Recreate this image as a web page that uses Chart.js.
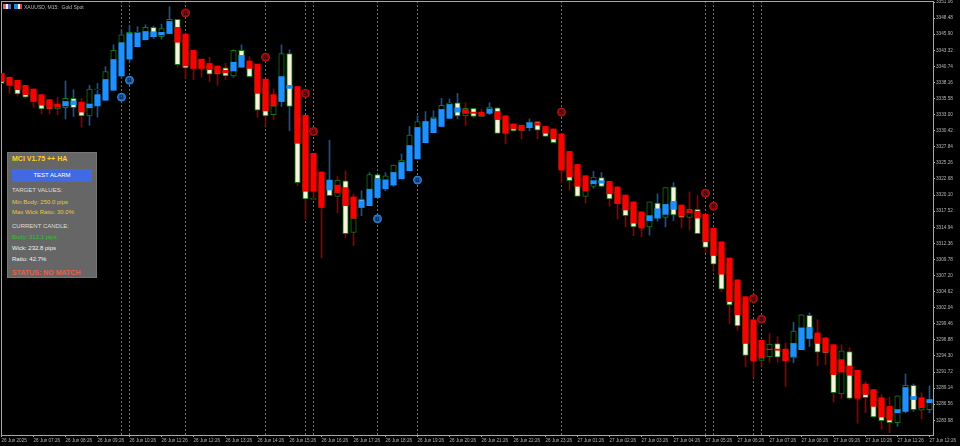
<!DOCTYPE html>
<html>
<head>
    <meta charset="UTF-8">
    <title>XAUUSD M15</title>
    <script src="https://cdn.jsdelivr.net/npm/chart.js"></script>
    <style>
        html, body { margin: 0; padding: 0; background: #000; overflow: hidden; }
        #wrap { position: relative; width: 960px; height: 446px; font-family: "Liberation Sans", Arial, sans-serif; }
        #header { position: absolute; left: 24px; top: 3.5px; font-size: 5px; line-height: 6px; color: #b8b8b8; white-space: pre; }
        .flag { position: absolute; top: 4px; width: 8px; height: 5px; }
        #panel { position: absolute; left: 7px; top: 152px; width: 88px; height: 124px; background: #666; border: 1px solid #777; color: #ddd; }
        #panel div { position: absolute; left: 4px; white-space: nowrap; font-size: 6px; line-height: 8px; }
        #panel #alarm { left: 4px; top: 16px; width: 80px; height: 13px; line-height: 13px; background: #4169e1; color: #fff; text-align: center; }
    </style>
</head>

<body>
    <div id="wrap">
        <canvas id="priceChart" width="960" height="446"></canvas>
        <div class="flag" style="left:3px;background:linear-gradient(90deg,#d66 0 40%,#eee 40% 60%,#56a 60%)"></div>
        <div class="flag" style="left:14px;background:linear-gradient(90deg,#28c 0 50%,#eee 50% 70%,#c44 70%)"></div>
        <div id="header">XAUUSD, M15:  Gold Spot</div>
        <div id="panel">
            <div style="top:2px;color:#ffd21e;font-size:7px;font-weight:bold">MCI V1.75 ++ HA</div>
            <div id="alarm">TEST ALARM</div>
            <div style="top:33px">TARGET VALUES:</div>
            <div style="top:44.5px;color:#e8c83c">Min Body: 250.0 pips</div>
            <div style="top:55px;color:#e8c83c">Max Wick Ratio: 30.0%</div>
            <div style="top:69px">CURRENT CANDLE:</div>
            <div style="top:80px;color:#2fc12f">Body: 312.1 pips</div>
            <div style="top:91px;color:#f2f2f2">Wick: 232.8 pips</div>
            <div style="top:102px;color:#f2f2f2">Ratio: 42.7%</div>
            <div style="top:115.5px;color:#e8604c;font-size:7px;font-weight:bold">STATUS: NO MATCH</div>
        </div>
    </div>

    <script>
        // regular candles
        const high = [
            3339.6,3339.0,3338.5,3337.7,3337.1,3336.2,3335.4,3335.8,3338.4,3337.0,
            3335.6,3337.7,3338.0,3340.7,3344.2,3346.6,3347.2,3347.1,3347.4,3347.2,
            3347.5,3350.3,3348.3,3345.9,3343.3,3341.9,3342.2,3340.8,3341.2,3343.4,
            3344.2,3342.3,3341.1,3338.7,3337.1,3344.2,3343.4,3337.5,3332.9,3326.8,
            3323.8,3328.9,3323.1,3324.0,3320.3,3320.8,3323.7,3323.4,3323.7,3324.9,
            3326.7,3331.1,3332.8,3333.5,3333.6,3335.6,3335.5,3336.4,3334.9,3334.0,
            3333.9,3334.9,3334.1,3332.8,3331.5,3331.3,3332.3,3331.9,3331.1,3330.7,
            3329.9,3327.1,3325.0,3323.2,3323.9,3323.7,3322.3,3321.4,3320.1,3319.0,
            3317.4,3319.0,3320.3,3321.3,3322.1,3318.5,3320.6,3320.0,3317.0,3314.8,
            3312.6,3310.0,3306.5,3303.8,3300.1,3296.8,3297.9,3297.4,3296.4,3299.7,
            3300.9,3301.2,3300.1,3297.2,3296.1,3296.1,3295.6,3292.0,3290.2,3288.9,
            3288.1,3287.7,3287.9,3291.4,3289.8,3288.4,3289.5
        ];
        const low = [
            3338.0,3336.4,3336.0,3335.6,3334.2,3333.1,3333.1,3333.0,3332.3,3332.7,
            3331.0,3331.3,3332.6,3335.3,3336.9,3338.8,3341.5,3343.9,3345.0,3345.2,
            3345.1,3346.0,3340.6,3338.8,3338.6,3339.0,3338.3,3337.7,3338.6,3339.0,
            3340.6,3339.1,3332.6,3331.2,3332.2,3334.3,3330.4,3321.6,3316.2,3319.4,
            3310.0,3320.0,3317.2,3313.3,3312.0,3316.8,3318.4,3319.7,3320.8,3321.5,
            3322.7,3324.0,3325.9,3328.5,3330.1,3331.1,3332.4,3332.3,3331.2,3332.5,
            3332.7,3333.0,3330.0,3328.3,3330.4,3329.1,3330.4,3329.1,3329.5,3328.5,
            3322.1,3320.9,3319.9,3318.8,3321.2,3321.4,3318.3,3316.3,3315.0,3313.6,
            3313.4,3313.7,3315.9,3315.0,3316.0,3314.8,3314.5,3313.9,3310.9,3308.1,
            3304.6,3299.5,3298.4,3292.6,3290.8,3292.7,3293.3,3293.3,3289.4,3293.2,
            3295.3,3295.8,3292.7,3292.9,3286.9,3287.5,3287.3,3283.5,3285.2,3284.5,
            3282.5,3282.0,3283.0,3285.2,3285.4,3284.2,3285.2
        ];
        const open = [
            3338.9,3338.9,3337.7,3337.0,3336.6,3335.4,3335.0,3333.9,3334.1,3335.6,
            3334.6,3332.8,3337.0,3338.6,3341.8,3344.5,3345.9,3346.1,3346.3,3347.0,
            3345.5,3347.9,3348.3,3345.0,3342.6,3341.8,3341.0,3340.5,3340.5,3339.2,
            3343.3,3341.0,3340.2,3337.7,3333.0,3335.1,3342.8,3335.4,3330.5,3319.4,
            3322.5,3322.4,3319.9,3322.4,3314.1,3319.4,3321.0,3323.4,3322.5,3323.7,
            3325.3,3328.0,3330.9,3330.9,3332.3,3333.8,3334.6,3334.9,3332.8,3334.0,
            3332.7,3333.8,3334.1,3332.2,3331.4,3330.4,3331.0,3331.9,3330.9,3330.4,
            3329.3,3326.5,3324.1,3319.9,3321.5,3322.9,3321.9,3320.9,3319.8,3318.5,
            3317.1,3315.0,3318.8,3316.5,3321.4,3318.2,3316.5,3317.8,3316.1,3314.2,
            3311.3,3308.9,3305.7,3302.5,3299.3,3293.6,3294.2,3296.3,3295.1,3294.0,
            3295.3,3300.8,3297.5,3296.9,3295.3,3288.2,3295.0,3291.3,3289.5,3288.6,
            3287.3,3285.7,3283.6,3289.2,3289.6,3285.6,3285.7
        ];
        const close = [
            3338.0,3337.9,3336.3,3335.8,3335.2,3333.9,3333.9,3334.6,3335.6,3334.1,
            3332.8,3337.1,3337.1,3339.9,3343.3,3345.8,3346.2,3346.2,3347.0,3345.5,
            3346.8,3348.3,3341.0,3340.5,3340.5,3340.5,3339.5,3339.5,3339.2,3343.3,
            3341.8,3339.1,3333.7,3332.8,3334.4,3342.8,3334.3,3322.1,3319.5,3319.6,
            3318.5,3320.0,3322.5,3313.9,3316.4,3318.7,3323.4,3322.7,3323.2,3324.9,
            3325.7,3329.7,3331.9,3331.8,3332.6,3334.5,3334.9,3332.8,3334.0,3332.7,
            3333.3,3334.2,3330.0,3330.1,3330.4,3331.0,3331.8,3330.5,3329.5,3328.5,
            3324.5,3322.4,3319.9,3320.8,3323.0,3321.5,3319.5,3318.7,3316.8,3315.0,
            3315.0,3319.0,3316.4,3321.3,3316.9,3316.5,3317.8,3313.9,3311.7,3309.0,
            3305.0,3302.5,3299.1,3294.4,3293.7,3294.0,3296.2,3294.1,3293.7,3298.3,
            3300.9,3297.1,3294.9,3294.8,3288.4,3295.1,3287.5,3287.9,3287.6,3284.5,
            3283.9,3283.6,3287.9,3289.6,3285.7,3286.0,3287.3
        ];

        // Heiken Ashi bodies drawn over the candles
        const haOpen = [
            3339.6,3339.0,3338.5,3337.7,3337.1,3336.2,3335.4,3334.7,3334.4,3334.6,
            3335.0,3334.1,3334.4,3335.3,3336.9,3339.2,3341.9,3343.9,3345.0,3345.5,
            3345.8,3346.0,3347.0,3345.9,3343.3,3341.9,3341.2,3340.8,3340.1,3340.0,
            3340.6,3341.6,3341.1,3338.7,3336.2,3335.1,3337.2,3337.5,3332.9,3326.8,
            3323.8,3320.9,3321.7,3321.3,3319.8,3318.1,3318.4,3319.7,3321.1,3321.7,
            3322.7,3324.0,3325.9,3328.5,3330.1,3331.1,3332.4,3333.4,3333.8,3333.4,
            3333.4,3333.2,3333.5,3332.8,3331.5,3331.3,3330.9,3331.7,3331.1,3330.7,
            3329.9,3327.1,3325.0,3323.2,3321.9,3322.0,3322.3,3321.4,3320.1,3319.0,
            3317.4,3316.0,3316.4,3317.0,3317.8,3318.5,3317.6,3317.5,3317.0,3314.8,
            3312.6,3310.0,3306.5,3303.8,3300.1,3296.8,3295.4,3295.4,3295.4,3294.2,
            3295.3,3297.1,3298.0,3297.2,3296.1,3293.7,3292.7,3292.0,3289.8,3288.9,
            3287.6,3286.2,3285.2,3285.4,3287.3,3287.6,3286.8
        ];
        const haClose = [
            3338.3,3337.7,3337.0,3336.2,3335.1,3334.5,3334.0,3334.2,3335.1,3335.2,
            3333.4,3334.7,3336.2,3338.6,3341.8,3344.5,3346.0,3346.1,3346.3,3346.3,
            3346.2,3347.9,3344.6,3340.8,3340.4,3340.4,3340.2,3339.6,3339.7,3341.4,
            3342.5,3340.4,3336.4,3333.6,3334.4,3339.1,3337.7,3328.4,3320.7,3320.7,
            3318.1,3322.5,3320.5,3318.4,3316.4,3319.2,3321.0,3322.7,3322.5,3323.7,
            3325.3,3328.0,3330.9,3331.9,3332.3,3333.8,3334.6,3334.1,3333.2,3333.2,
            3332.8,3333.9,3332.2,3330.0,3330.7,3330.5,3331.7,3331.3,3330.0,3329.1,
            3324.1,3323.0,3321.5,3320.8,3322.4,3322.4,3320.3,3318.8,3317.7,3315.6,
            3314.8,3316.8,3317.9,3318.6,3319.1,3316.7,3317.3,3316.4,3312.6,3310.4,
            3307.4,3303.0,3300.9,3296.3,3293.5,3294.0,3295.3,3295.2,3293.5,3296.3,
            3298.8,3298.9,3296.3,3294.9,3291.3,3291.7,3291.2,3287.5,3288.1,3286.2,
            3284.5,3284.0,3285.7,3289.2,3287.8,3286.0,3287.3
        ];

        // sell / buy arrows: candle index and price
        const sellBars = [23, 33, 38, 39, 70, 88, 89, 94, 95];
        const sellPrices = [3349.3, 3342.2, 3336.4, 3330.3, 3333.4, 3320.4, 3318.3, 3303.5, 3300.2];
        const buyBars = [15, 16, 47, 52];
        const buyPrices = [3335.8, 3338.5, 3316.3, 3322.5];

        const priceTicks = [
            3351.06,3348.48,3345.90,3343.32,3340.74,3338.16,3335.58,3333.00,3330.42,
            3327.84,3325.26,3322.68,3320.10,3317.52,3314.94,3312.36,3309.78,3307.20,
            3304.62,3302.04,3299.46,3296.88,3294.30,3291.72,3289.14,3286.56,3283.98
        ];
        const timeLabels = [
            '26 Jun 2025','26 Jun 07:26','26 Jun 08:26','26 Jun 09:26','26 Jun 10:26','26 Jun 11:26',
            '26 Jun 12:26','26 Jun 13:26','26 Jun 14:26','26 Jun 15:26','26 Jun 16:26','26 Jun 17:26',
            '26 Jun 18:26','26 Jun 19:26','26 Jun 20:26','26 Jun 21:26','26 Jun 22:26','26 Jun 23:26',
            '27 Jun 01:26','27 Jun 02:26','27 Jun 03:26','27 Jun 04:26','27 Jun 05:26','27 Jun 06:26',
            '27 Jun 07:26','27 Jun 08:26','27 Jun 09:26','27 Jun 10:26','27 Jun 11:26','27 Jun 12:26'
        ];

        const yMax = 3351.06;
        const yMin = 3281.62;
        const isUp = i => haClose[i] > haOpen[i];

        // dotted vertical under every arrow
        const signalBars = sellBars.concat(buyBars);
        const signalLine = signalBars.flatMap(i => [{x: i, y: yMin}, {x: i, y: yMax}, {x: i, y: null}]);

        // frame round the plot and letters inside the arrow circles
        const chartExtras = {
            id: 'chartExtras',
            beforeDatasetsDraw(chart) {
                const a = chart.chartArea;
                const ctx = chart.ctx;
                ctx.save();
                ctx.strokeStyle = '#a8a8a8';
                ctx.lineWidth = 1;
                ctx.strokeRect(a.left + 0.5, a.top - 0.5, a.right - a.left, a.bottom - a.top + 1);
                ctx.restore();
            },
            afterDatasetsDraw(chart) {
                const ctx = chart.ctx;
                ctx.save();
                ctx.font = 'bold 6px "Liberation Sans"';
                ctx.textAlign = 'center';
                ctx.textBaseline = 'middle';
                chart.data.datasets.forEach((ds, n) => {
                    if (!ds.letter) return;
                    ctx.fillStyle = ds.letterColor;
                    chart.getDatasetMeta(n).data.forEach(p => ctx.fillText(ds.letter, p.x, p.y + 0.5));
                });
                ctx.restore();
            }
        };

        new Chart(document.getElementById('priceChart').getContext('2d'), {
            type: 'bar',
            data: {
                datasets: [
                    {
                        type: 'scatter',
                        data: sellBars.map((b, i) => ({x: b, y: sellPrices[i]})),
                        pointStyle: 'circle',
                        pointRadius: 4,
                        pointBackgroundColor: '#8a0808',
                        pointBorderColor: '#b81414',
                        pointBorderWidth: 1,
                        letter: 'S',
                        letterColor: '#2a0000',
                        order: 0
                    },
                    {
                        type: 'scatter',
                        data: buyBars.map((b, i) => ({x: b, y: buyPrices[i]})),
                        pointStyle: 'circle',
                        pointRadius: 4,
                        pointBackgroundColor: '#1a62b0',
                        pointBorderColor: '#2a8ae0',
                        pointBorderWidth: 1,
                        letter: 'B',
                        letterColor: '#062040',
                        order: 0
                    },
                    {
                        // Heiken Ashi
                        data: haOpen.map((v, i) => ({x: i, y: [v, haClose[i]]})),
                        backgroundColor: haOpen.map((v, i) => isUp(i) ? '#1e90ff' : '#ff0000'),
                        barThickness: 5.5,
                        grouped: false,
                        order: 1
                    },
                    {
                        // candles: cream when falling, hollow when rising
                        data: open.map((v, i) => ({x: i, y: [v, close[i]]})),
                        backgroundColor: open.map((v, i) => close[i] < v ? '#f5f5dc' : '#000000'),
                        borderColor: '#127c12',
                        borderWidth: 1,
                        borderSkipped: false,
                        barThickness: 5.5,
                        grouped: false,
                        order: 2
                    },
                    {
                        // wicks
                        data: high.map((v, i) => ({x: i, y: [low[i], v]})),
                        backgroundColor: high.map((v, i) => isUp(i) ? '#1f4f90' : '#8b0000'),
                        barThickness: 1,
                        grouped: false,
                        order: 3
                    },
                    {
                        type: 'line',
                        data: signalLine,
                        borderColor: '#6e6e6e',
                        borderWidth: 1,
                        borderDash: [2, 2],
                        pointRadius: 0,
                        spanGaps: false,
                        order: 4
                    }
                ]
            },
            options: {
                responsive: false,
                animation: false,
                layout: { autoPadding: false, padding: { left: 1, top: 2, right: 0, bottom: 0 } },
                plugins: { legend: { display: false }, tooltip: { enabled: false } },
                scales: {
                    x: {
                        type: 'linear',
                        offset: false,
                        min: -0.0625,
                        max: 116.4375,
                        afterBuildTicks: scale => { scale.ticks = timeLabels.map((t, i) => ({value: i * 4})); },
                        afterFit: scale => {
                            scale.height = 11;
                            scale.paddingLeft = 0;
                            scale.paddingRight = 0;
                        },
                        grid: { offset: false, drawOnChartArea: false, tickLength: 2, tickColor: '#a8a8a8' },
                        border: { display: false },
                        ticks: {
                            align: 'start',
                            autoSkip: false,
                            maxRotation: 0,
                            minRotation: 0,
                            padding: 1,
                            color: '#b4b4b4',
                            font: { family: 'Liberation Sans', size: 4.6 },
                            callback: value => timeLabels[value / 4]
                        }
                    },
                    y: {
                        position: 'right',
                        min: yMin,
                        max: yMax,
                        afterBuildTicks: scale => { scale.ticks = priceTicks.map(v => ({value: v})); },
                        afterFit: scale => {
                            scale.width = 27;
                            scale.paddingTop = 0;
                            scale.paddingBottom = 0;
                        },
                        grid: { drawOnChartArea: false, tickLength: 2, tickColor: '#a8a8a8' },
                        border: { display: false },
                        ticks: {
                            autoSkip: false,
                            padding: 1,
                            color: '#b4b4b4',
                            font: { family: 'Liberation Sans', size: 4.7 },
                            callback: value => value.toFixed(2)
                        }
                    }
                }
            },
            plugins: [chartExtras]
        });
    </script>
</body>
</html>
